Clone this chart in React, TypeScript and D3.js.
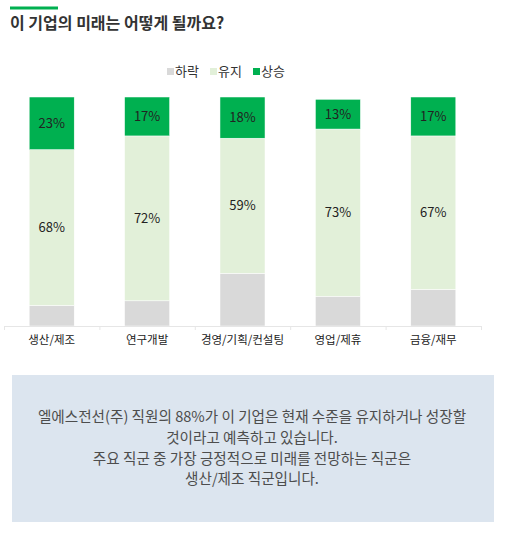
import * as d3 from "d3";

const categories = ["생산/제조", "연구개발", "경영/기획/컨설팅", "영업/제휴", "금융/재무"];
const down = [9, 11, 23, 13, 16];
const keep = [68, 72, 59, 73, 67];
const up = [23, 17, 18, 13, 17];

const seriesKeys = ["down", "keep", "up"] as const;
const seriesLabels = ["하락", "유지", "상승"];
const seriesColors = ["#d9d9d9", "#e2f0d9", "#00b050"];

const noteLines = [
  "엘에스전선(주) 직원의 88%가 이 기업은 현재 수준을 유지하거나 성장할",
  "것이라고 예측하고 있습니다.",
  "주요 직군 중 가장 긍정적으로 미래를 전망하는 직군은",
  "생산/제조 직군입니다.",
];

const W = 508;
const H = 534;
const FONT = "'Noto Sans CJK KR', 'Noto Sans', sans-serif";
const PLOT = { left: 4, right: 481, top: 97, bottom: 326 };

type Row = { cat: string; down: number; keep: number; up: number };
const rows: Row[] = categories.map((c, i) => ({ cat: c, down: down[i], keep: keep[i], up: up[i] }));

export default function App() {
  const x = d3.scaleBand<string>().domain(categories).range([PLOT.left, PLOT.right]).paddingInner(0.528).paddingOuter(0.264);
  const y = d3.scaleLinear().domain([0, 100]).range([PLOT.bottom, PLOT.top]);
  const stacked = d3.stack<Row>().keys(seriesKeys as unknown as string[])(rows);
  const step = x.step();
  const boundaries = d3.range(categories.length + 1).map((i) => PLOT.left + i * step);

  return (
    <div style={{ position: "fixed", left: 0, top: 0, width: W, height: H, background: "#fff" }}>
      <svg width={W} height={H} style={{ display: "block", fontFamily: FONT }}>
        <rect x={10} y={6.5} width={48} height={3} fill="#00b050" />
        <text x={10} y={29} fontSize={16} fontWeight={700} fill="#333">
          이 기업의 미래는 어떻게 될까요?
        </text>

        {/* legend */}
        {seriesLabels.map((label, i) => {
          const lx = [167, 210, 253][i];
          return (
            <g key={label}>
              <rect x={lx} y={68} width={7} height={7} fill={seriesColors[i]} />
              <text x={lx + 8} y={76} fontSize={13} fill="#333">
                {label}
              </text>
            </g>
          );
        })}

        {/* bars */}
        {stacked.map((layer, si) => (
          <g key={layer.key}>
            {layer.map((d, i) => (
              <rect
                key={i}
                x={x(rows[i].cat)!}
                y={y(d[1])}
                width={x.bandwidth()}
                height={y(d[0]) - y(d[1])}
                fill={seriesColors[si]}
                stroke="#ffffff"
                strokeWidth={0.5}
              />
            ))}
            {si > 0 &&
              layer.map((d, i) => (
                <text
                  key={"t" + i}
                  x={x(rows[i].cat)! + x.bandwidth() / 2}
                  y={(y(d[0]) + y(d[1])) / 2}
                  dy="0.36em"
                  textAnchor="middle"
                  fontSize={13}
                  fill="#222"
                >
                  {d[1] - d[0]}%
                </text>
              ))}
          </g>
        ))}

        {/* x axis */}
        <line x1={PLOT.left} x2={PLOT.right} y1={PLOT.bottom + 0.5} y2={PLOT.bottom + 0.5} stroke="#e6e6e6" />
        {boundaries.map((bx, i) => (
          <line key={i} x1={bx + 0.5} x2={bx + 0.5} y1={PLOT.bottom} y2={PLOT.bottom + 4} stroke="#e6e6e6" />
        ))}
        {categories.map((c) => (
          <text key={c} x={x(c)! + x.bandwidth() / 2} y={344} textAnchor="middle" fontSize={11.5} fill="#222">
            {c}
          </text>
        ))}

        {/* note box */}
        <rect x={12} y={375} width={482} height={147} fill="#dce5ef" />
        {noteLines.map((line, i) => (
          <text key={i} x={252} y={417 + i * 20.7} dy="0.36em" textAnchor="middle" fontSize={14.6} fill="#4d4d4d">
            {line}
          </text>
        ))}
      </svg>
    </div>
  );
}
